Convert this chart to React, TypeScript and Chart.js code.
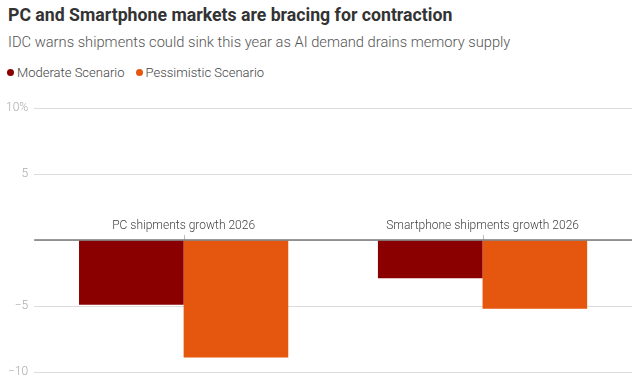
import React, { useEffect, useRef } from "react";
import { Chart, registerables } from "chart.js";

Chart.register(...registerables);

const categories = ["PC shipments growth 2026", "Smartphone shipments growth 2026"];
const seriesNames = ["Moderate Scenario", "Pessimistic Scenario"];
const moderate = [-4.9, -2.9];
const pessimistic = [-8.9, -5.2];
const yTicks = [-10, -5, 0, 5, 10];
const colors = ["#8a0000", "#e5560f"];
const FONT = "Roboto, 'Open Sans', sans-serif";

const categoryLabelPlugin = {
  id: "catLabels",
  afterDatasetsDraw(chart: any) {
    const { ctx } = chart;
    const x = chart.scales.x;
    const y = chart.scales.y;
    const y0 = y.getPixelForValue(0);
    ctx.save();
    ctx.font = `300 12px ${FONT}`;
    ctx.fillStyle = "#444";
    ctx.textAlign = "center";
    ctx.textBaseline = "alphabetic";
    categories.forEach((c, i) => {
      const px = x.getPixelForValue(i);
      ctx.fillText(c, px, y0 - 11);
      ctx.strokeStyle = "#bbb";
      ctx.lineWidth = 1;
      ctx.beginPath();
      ctx.moveTo(Math.round(px) + 0.5, y0 - 5);
      ctx.lineTo(Math.round(px) + 0.5, y0);
      ctx.stroke();
    });
    ctx.strokeStyle = "#777";
    ctx.lineWidth = 1.5;
    ctx.beginPath();
    ctx.moveTo(chart.chartArea.left, y0);
    ctx.lineTo(chart.chartArea.right, y0);
    ctx.stroke();
    ctx.restore();
  },
};

export default function App() {
  const ref = useRef<HTMLCanvasElement>(null);
  useEffect(() => {
    const chart = new Chart(ref.current!, {
      type: "bar",
      data: {
        labels: categories,
        datasets: [
          { label: seriesNames[0], data: moderate, backgroundColor: colors[0], borderWidth: 0 },
          { label: seriesNames[1], data: pessimistic, backgroundColor: colors[1], borderWidth: 0 },
        ],
      },
      options: {
        animation: false,
        responsive: false,
        maintainAspectRatio: false,
        layout: { padding: { top: 108, right: 8, bottom: 20, left: 0 } },
        plugins: { legend: { display: false }, tooltip: { enabled: false }, title: { display: false } },
        datasets: { bar: { categoryPercentage: 0.7, barPercentage: 1 } },
        scales: {
          x: { display: false, grid: { display: false } },
          y: {
            min: -10,
            max: 10,
            afterBuildTicks: (s: any) => {
              s.ticks = yTicks.map((v) => ({ value: v }));
            },
            border: { display: false },
            grid: {
              color: "#dcdcdc",
              lineWidth: 1,
              drawTicks: false,
            },
            ticks: {
              padding: 6,
              color: "#aaa",
              font: { family: FONT, size: 12, weight: "300" },
              callback: (v: any) => (v === 10 ? "10%" : v === 0 ? "" : v < 0 ? "\u2212" + Math.abs(v) : String(v)),
            },
          },
        },
      },
      plugins: [categoryLabelPlugin],
    });
    return () => chart.destroy();
  }, []);

  return (
    <div style={{ position: "absolute", left: 0, top: 0, width: 640, height: 392, background: "#fff", fontFamily: FONT }}>
      <div style={{ position: "absolute", left: 8, top: 5, fontSize: 17.7, fontWeight: 700, color: "#333", whiteSpace: "nowrap" }}>
        PC and Smartphone markets are bracing for contraction
      </div>
      <div style={{ position: "absolute", left: 8, top: 33, fontSize: 14.7, fontWeight: 300, color: "#555", whiteSpace: "nowrap" }}>
        IDC warns shipments could sink this year as AI demand drains memory supply
      </div>
      <div style={{ position: "absolute", left: 7, top: 65, fontSize: 13, fontWeight: 300, color: "#444", display: "flex", gap: 11, whiteSpace: "nowrap" }}>
        {seriesNames.map((n, i) => (
          <span key={n} style={{ display: "flex", alignItems: "center" }}>
            <span style={{ display: "inline-block", width: 7, height: 7, borderRadius: 4, background: colors[i], marginRight: 3 }} />
            {n}
          </span>
        ))}
      </div>
      <canvas ref={ref} width={640} height={392} style={{ position: "absolute", left: 0, top: 0 }} />
    </div>
  );
}
